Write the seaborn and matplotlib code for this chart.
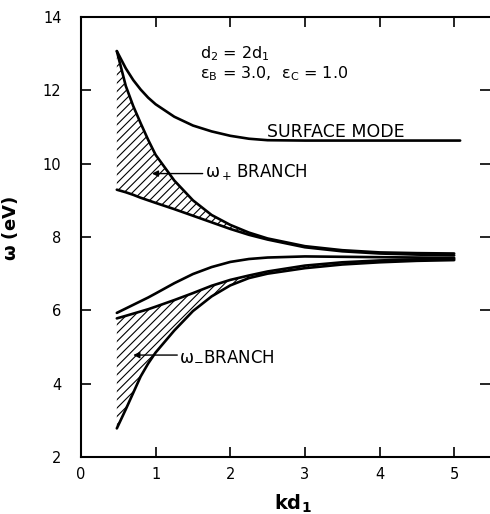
import matplotlib
matplotlib.use("Agg")
import numpy as np
import pandas as pd
import matplotlib.pyplot as plt
import seaborn as sns

# Dispersion curves for the layered structure (d2 = 2 d1, eps_B = 3.0, eps_C = 1.0)
kd = [0.48, 0.6, 0.7, 0.8, 0.9, 1.0, 1.25, 1.5, 1.75, 2.0, 2.25, 2.5, 3.0, 3.5, 4.0, 4.5, 5.0]
kd_surface = [0.48, 0.6, 0.7, 0.8, 0.9, 1.0, 1.25, 1.5, 1.75, 2.0, 2.25, 2.5, 3.0, 3.5, 4.0, 4.5, 5.08]

surface_mode = [13.07, 12.6, 12.28, 12.02, 11.8, 11.62, 11.28, 11.04, 10.88, 10.76, 10.68, 10.64,
                10.63, 10.63, 10.63, 10.63, 10.63]
plus_upper = [13.07, 12.12, 11.57, 11.1, 10.65, 10.24, 9.54, 9.0, 8.6, 8.33, 8.12, 7.96,
              7.75, 7.64, 7.58, 7.56, 7.55]
plus_lower = [9.29, 9.22, 9.15, 9.07, 9.0, 8.93, 8.76, 8.58, 8.40, 8.22, 8.06, 7.93,
              7.72, 7.61, 7.55, 7.52, 7.50]
minus_upper = [5.93, 6.05, 6.15, 6.25, 6.35, 6.46, 6.74, 6.99, 7.18, 7.32, 7.40, 7.44,
               7.47, 7.46, 7.45, 7.44, 7.43]
minus_mid = [5.78, 5.85, 5.91, 5.97, 6.03, 6.10, 6.28, 6.47, 6.67, 6.83, 6.95, 7.06,
             7.22, 7.31, 7.36, 7.39, 7.40]
minus_lower = [2.78, 3.3, 3.75, 4.2, 4.55, 4.85, 5.45, 5.98, 6.38, 6.68, 6.88, 7.0,
               7.15, 7.25, 7.31, 7.35, 7.37]

x_ticks = [0, 1, 2, 3, 4, 5]
y_ticks = [2, 4, 6, 8, 10, 12, 14]

sns.set_style("ticks")
plt.rcParams["font.family"] = ["DejaVu Sans"]
plt.rcParams["mathtext.fontset"] = "dejavusans"
plt.rcParams["mathtext.default"] = "regular"
plt.rcParams["hatch.linewidth"] = 0.8
plt.rcParams["text.color"] = "black"
plt.rcParams["axes.labelcolor"] = "black"

curves = {
    "surface": (kd_surface, surface_mode),
    "plus_upper": (kd, plus_upper),
    "plus_lower": (kd, plus_lower),
    "minus_upper": (kd, minus_upper),
    "minus_mid": (kd, minus_mid),
    "minus_lower": (kd, minus_lower),
}
df = pd.concat(
    [pd.DataFrame({"curve": name, "kd": xs, "omega": ys}) for name, (xs, ys) in curves.items()],
    ignore_index=True,
)

fig = plt.figure(figsize=(4.9, 5.14), dpi=100)
ax = fig.add_axes([81 / 490, 1 - 457 / 514, 409 / 490, 440 / 514])

# hatched bands of the two branches
kd_arr = np.array(kd)
ax.fill_between(kd, plus_lower, plus_upper, where=kd_arr <= 3.0, interpolate=True,
                facecolor="none", edgecolor="black", hatch="////", linewidth=0)
ax.fill_between(kd, minus_lower, minus_mid, where=kd_arr <= 3.0, interpolate=True,
                facecolor="none", edgecolor="black", hatch="////", linewidth=0)

sns.lineplot(data=df, x="kd", y="omega", units="curve", estimator=None, sort=False,
             color="black", linewidth=1.9, ax=ax, legend=False)

ax.set_xlim(0, 5.48)
ax.set_ylim(2, 14)
ax.set_xticks(x_ticks)
ax.set_xticklabels([str(t) for t in x_ticks])
ax.set_yticks(y_ticks)
ax.set_yticklabels([str(t) for t in y_ticks])
ax.tick_params(direction="in", length=7, width=1.2, top=True, right=True,
               labelsize=10.5, colors="black")
ax.tick_params(axis="y", pad=14)
ax.tick_params(axis="x", pad=7)
for side in ("left", "top", "bottom"):
    ax.spines[side].set_linewidth(1.5)
    ax.spines[side].set_color("black")
ax.spines["right"].set_visible(False)

ax.set_xlabel(r"$\mathbf{kd_1}$", fontsize=14)
ax.set_ylabel(r"$\mathbf{\omega}$ (eV)", fontsize=13, fontweight="bold")
ax.xaxis.set_label_coords(0.518, -0.082)
ax.yaxis.set_label_coords(-0.150, 0.52)

# parameter note and curve labels
ax.text(1.6, 12.87, r"d$_2$ = 2d$_1$", fontsize=11.5)
ax.text(1.6, 12.33, r"$\epsilon_B$ = 3.0,  $\epsilon_C$ = 1.0", fontsize=11.5)
ax.text(2.49, 10.72, "SURFACE MODE", fontsize=12.5, va="baseline")

ax.text(1.66, 9.63, r"$\omega_+\,$BRANCH", fontsize=12, va="baseline")
ax.annotate("", xy=(0.95, 9.73), xytext=(1.63, 9.73),
            arrowprops=dict(arrowstyle="-|>", color="black", lw=1.0,
                            mutation_scale=9, shrinkA=0, shrinkB=0))
ax.text(1.31, 4.64, r"$\omega_{-}$BRANCH", fontsize=12, va="baseline")
ax.annotate("", xy=(0.70, 4.78), xytext=(1.29, 4.78),
            arrowprops=dict(arrowstyle="-|>", color="black", lw=1.0,
                            mutation_scale=9, shrinkA=0, shrinkB=0))

fig.savefig("out.png", dpi=100)
